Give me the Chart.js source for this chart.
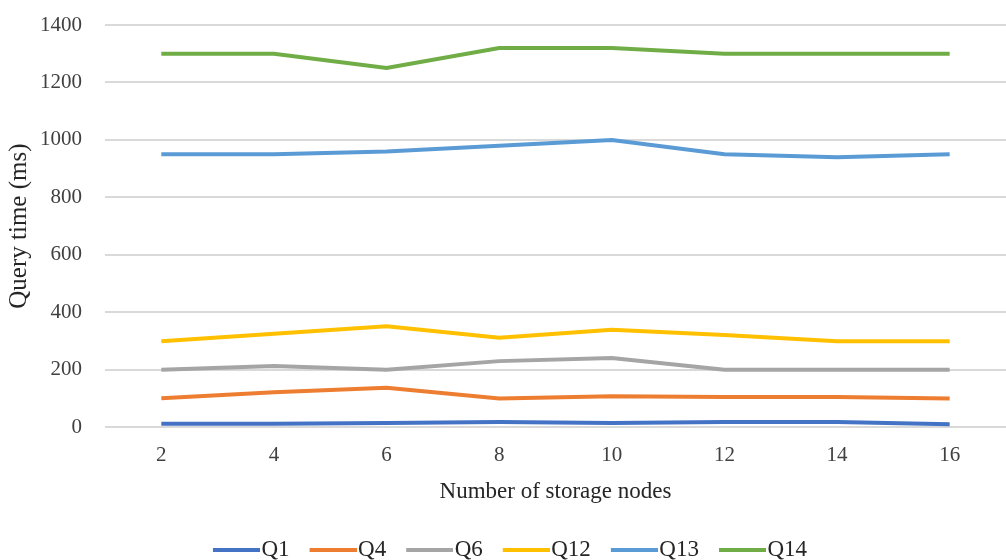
<!DOCTYPE html>
<html>
<head>
<meta charset="utf-8">
<script src="https://cdn.jsdelivr.net/npm/chart.js@4/dist/chart.umd.min.js"></script>
<style>
  html, body { margin: 0; padding: 0; background: #ffffff; }
  #wrap { width: 1006px; height: 560px; }
</style>
</head>
<body>
<div id="wrap"><canvas id="queryChart" width="1006" height="560"></canvas></div>
<script>
const nodes = ['2', '4', '6', '8', '10', '12', '14', '16']
const q1 = [12, 12, 15, 18, 15, 18, 18, 10]
const q4 = [101, 122, 137, 100, 108, 105, 105, 100]
const q6 = [200, 213, 200, 230, 241, 200, 200, 200]
const q12 = [299, 325, 351, 311, 339, 321, 299, 299]
const q13 = [950, 950, 960, 980, 1000, 950, 940, 950]
const q14 = [1300, 1300, 1250, 1320, 1320, 1300, 1300, 1300]

const serif = "'Liberation Serif', 'Times New Roman', serif"

// legend swatch: thick line shifted right so it runs up to the label text
const swatch = (color) => {
  const c = document.createElement('canvas')
  c.width = 67
  c.height = 4
  const g = c.getContext('2d')
  g.fillStyle = color
  g.fillRect(20, 0, 47, 4)
  return c
}

const line = (label, data, color) => ({
  label: label,
  data: data,
  borderColor: color,
  backgroundColor: color,
  borderWidth: 4,
  pointRadius: 0,
  pointStyle: swatch(color),
  tension: 0,
  fill: false
})

const ctx = document.getElementById('queryChart').getContext('2d')
const chart = new Chart(ctx, {
  type: 'line',
  data: {
    labels: nodes,
    datasets: [
      line('Q1', q1, '#4472C4'),
      line('Q4', q4, '#ED7D31'),
      line('Q6', q6, '#A5A5A5'),
      line('Q12', q12, '#FFC000'),
      line('Q13', q13, '#5B9BD5'),
      line('Q14', q14, '#70AD47')
    ]
  },
  options: {
    responsive: false,
    animation: false,
    layout: {
      padding: { left: 4, right: 0, top: 25, bottom: -11 }
    },
    plugins: {
      tooltip: { enabled: false },
      legend: {
        position: 'bottom',
        labels: {
          usePointStyle: true,
          pointStyleWidth: 47,
          boxHeight: 22,
          padding: 10,
          color: '#262626',
          font: { family: serif, size: 23 }
        }
      }
    },
    scales: {
      x: {
        offset: true,
        grid: { display: false },
        border: { display: false },
        ticks: {
          color: '#404040',
          font: { family: serif, size: 21 },
          padding: 8
        },
        title: {
          display: true,
          text: 'Number of storage nodes',
          color: '#262626',
          font: { family: serif, size: 23 },
          padding: { top: 2, bottom: 22 }
        }
      },
      y: {
        min: 0,
        max: 1400,
        grid: { color: '#d9d9d9', lineWidth: 2, drawTicks: false },
        border: { display: false },
        afterFit: (scale) => {
          scale.width = 101
          scale.paddingTop = 13
          scale.paddingBottom = 13
        },
        ticks: {
          stepSize: 200,
          color: '#404040',
          font: { family: serif, size: 21 },
          padding: 23,
          callback: (v) => String(v)
        },
        title: {
          display: true,
          text: 'Query time (ms)',
          color: '#262626',
          font: { family: serif, size: 25 },
          padding: { top: 0, bottom: 0 }
        }
      }
    }
  }
})
</script>
</body>
</html>
